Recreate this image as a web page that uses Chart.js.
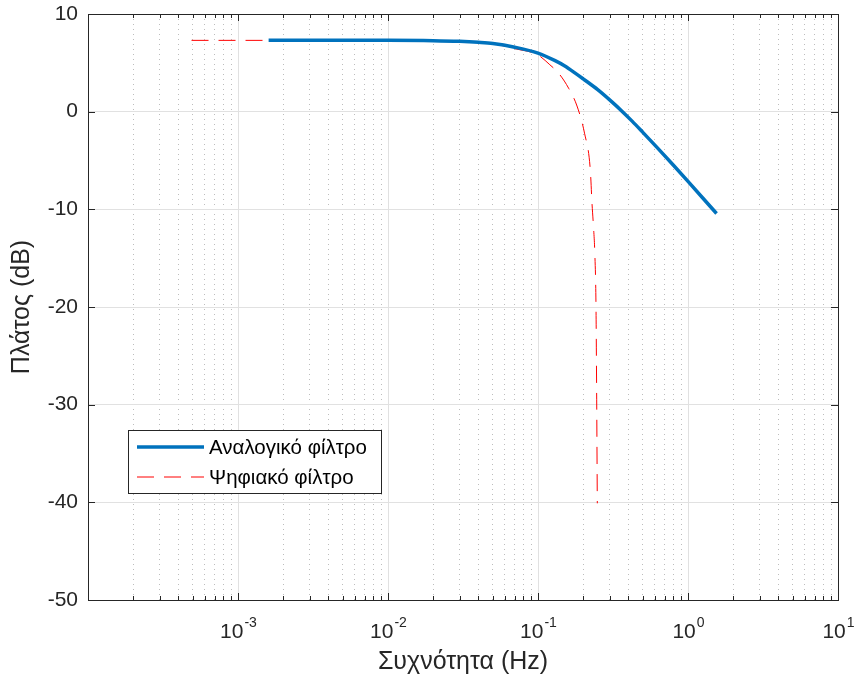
<!DOCTYPE html>
<html>
<head>
<meta charset="utf-8">
<script src="https://cdn.jsdelivr.net/npm/chart.js@4.4.1/dist/chart.umd.min.js"></script>
<style>
  html, body { margin: 0; padding: 0; background: #fff; }
  #wrap { width: 854px; height: 678px; }
</style>
</head>
<body>
<div id="wrap"><canvas id="bode" width="854" height="678"></canvas></div>
<script>
// values
const analogFreq = [0.0016, 0.005, 0.01, 0.02, 0.03, 0.04, 0.05, 0.07, 0.1, 0.13, 0.15, 0.177, 0.2, 0.25, 0.311, 0.36, 0.424, 0.5, 0.63, 0.8, 1.0, 1.25, 1.55];
const analogDb   = [7.3, 7.3, 7.3, 7.27, 7.2, 7.1, 6.98, 6.6, 6.0, 5.22, 4.7, 3.95, 3.36, 2.25, 1.0, 0.1, -0.97, -2.12, -3.76, -5.49, -7.14, -8.81, -10.43];

const digitalFreq = [0.00049, 0.001, 0.005, 0.01, 0.02, 0.03, 0.05, 0.07, 0.1, 0.12, 0.1374, 0.16, 0.182, 0.2042, 0.2233, 0.2291, 0.2351, 0.2388, 0.2436, 0.2462, 0.2485];
const digitalDb   = [7.3, 7.3, 7.3, 7.3, 7.27, 7.2, 6.95, 6.45, 5.8, 4.8, 3.93, 2.4, 0.58, -2.2, -6.0, -9.4, -12.1, -14.2, -20.0, -29.5, -40.1];

const seriesNames = ['Αναλογικό φίλτρο', 'Ψηφιακό φίλτρο'];
const xTitle = 'Συχνότητα (Hz)';
const yTitle = 'Πλάτος (dB)';

const xMin = 1e-4, xMax = 10;
const yMin = -50, yMax = 10;
const xMajor = [1e-4, 1e-3, 1e-2, 1e-1, 1, 10];
const xLabelExp = { 1e-3: '-3', 1e-2: '-2', 1e-1: '-1', 1: '0', 10: '1' };

// minor tick values 2..9 inside each decade
const xTicks = [];
xMajor.forEach((d, i) => {
    xTicks.push({ value: d, major: true });
    if (i < xMajor.length - 1) {
        for (let k = 2; k <= 9; k++) xTicks.push({ value: +(d * k).toPrecision(3), major: false });
    }
});

const axisColor = '#262626';
const fontName = '"Liberation Sans", Arial, sans-serif';

const matlabLook = {
    id: 'matlabLook',
    afterDraw(chart) {
        const { ctx, chartArea: a, scales } = chart;
        const xs = scales.x, ys = scales.y;
        ctx.save();
        ctx.strokeStyle = axisColor;
        ctx.lineWidth = 1;
        // axes box
        ctx.strokeRect(Math.round(a.left) + 0.5, Math.round(a.top) + 0.5,
            Math.round(a.right - a.left), Math.round(a.bottom - a.top));
        // inward ticks
        ctx.beginPath();
        xs.ticks.forEach(t => {
            const px = Math.round(xs.getPixelForValue(t.value)) + 0.5;
            const len = t.major ? 7 : 4;
            ctx.moveTo(px, a.bottom); ctx.lineTo(px, a.bottom - len);
            ctx.moveTo(px, a.top); ctx.lineTo(px, a.top + len);
        });
        ys.ticks.forEach(t => {
            const py = Math.round(ys.getPixelForValue(t.value)) + 0.5;
            ctx.moveTo(a.left, py); ctx.lineTo(a.left + 7, py);
            ctx.moveTo(a.right, py); ctx.lineTo(a.right - 7, py);
        });
        ctx.stroke();

        // x tick labels 10^n
        ctx.fillStyle = axisColor;
        ctx.textBaseline = 'alphabetic';
        ctx.textAlign = 'left';
        xMajor.forEach(v => {
            const exp = xLabelExp[v];
            if (exp === undefined) return;
            const px = xs.getPixelForValue(v);
            ctx.font = '21px ' + fontName;
            const wb = ctx.measureText('10').width;
            ctx.font = '14px ' + fontName;
            const we = ctx.measureText(exp).width;
            const x0 = px - (wb + we) / 2;
            ctx.font = '21px ' + fontName;
            ctx.fillText('10', x0, a.bottom + 38);
            ctx.font = '14px ' + fontName;
            ctx.fillText(exp, x0 + wb + 1, a.bottom + 27);
        });

        // legend box
        const lx = 128, ly = 430, lw = 253, lh = 63;
        ctx.fillStyle = '#ffffff';
        ctx.fillRect(lx, ly, lw, lh);
        ctx.strokeStyle = axisColor;
        ctx.lineWidth = 1;
        ctx.strokeRect(lx + 0.5, ly + 0.5, lw, lh);
        ctx.font = '20.5px ' + fontName;
        ctx.textBaseline = 'middle';
        chart.data.datasets.forEach((ds, i) => {
            const cy = ly + 17 + i * 30;
            ctx.strokeStyle = ds.borderColor;
            ctx.lineWidth = ds.borderWidth;
            ctx.setLineDash(ds.borderDash || []);
            ctx.beginPath();
            ctx.moveTo(lx + 9, cy); ctx.lineTo(lx + 76, cy);
            ctx.stroke();
            ctx.setLineDash([]);
            ctx.fillStyle = '#000';
            ctx.fillText(ds.label, lx + 81, cy + 1);
        });
        ctx.restore();
    }
};

new Chart(document.getElementById('bode'), {
    type: 'line',
    data: {
        datasets: [
            {
                label: seriesNames[0],
                data: analogFreq.map((f, i) => ({ x: f, y: analogDb[i] })),
                borderColor: '#0072BD',
                borderWidth: 3.5,
                pointRadius: 0,
                cubicInterpolationMode: 'monotone',
                fill: false
            },
            {
                label: seriesNames[1],
                data: digitalFreq.map((f, i) => ({ x: f, y: digitalDb[i] })),
                borderColor: '#FF0000',
                borderWidth: 1,
                borderDash: [17, 10],
                pointRadius: 0,
                cubicInterpolationMode: 'monotone',
                fill: false
            }
        ]
    },
    options: {
        responsive: false,
        animation: false,
        devicePixelRatio: 1,
        layout: { padding: { top: 14, right: 16, left: 0, bottom: 0 } },
        plugins: { legend: { display: false }, tooltip: { enabled: false } },
        scales: {
            x: {
                type: 'logarithmic',
                min: xMin, max: xMax,
                afterBuildTicks: s => { s.ticks = xTicks.map(t => ({ ...t })); },
                afterFit: s => { s.height = 78; s.paddingLeft = 0; s.paddingRight = 0; },
                ticks: { autoSkip: false, maxRotation: 0, callback: () => '' },
                grid: {
                    drawTicks: false,
                    color: c => (c.tick && c.tick.major) ? '#e1e1e1' : '#bdbdbd',
                    lineWidth: 1
                },
                border: {
                    display: false,
                    dash: c => (c.tick && !c.tick.major) ? [1, 4] : []
                },
                title: {
                    display: true, text: xTitle, color: axisColor,
                    font: { family: fontName, size: 25 },
                    padding: { top: 0, bottom: 1 }
                }
            },
            y: {
                min: yMin, max: yMax,
                afterFit: s => { s.width = 88; s.paddingTop = 0; s.paddingBottom = 0; },
                ticks: {
                    stepSize: 10, color: axisColor, padding: 10,
                    font: { family: fontName, size: 21 }
                },
                grid: { drawTicks: false, color: '#e1e1e1', lineWidth: 1 },
                border: { display: false },
                title: {
                    display: true, text: yTitle, color: axisColor,
                    font: { family: fontName, size: 25 },
                    padding: { top: 7, bottom: 0 }
                }
            }
        }
    },
    plugins: [matlabLook]
});
</script>
</body>
</html>
